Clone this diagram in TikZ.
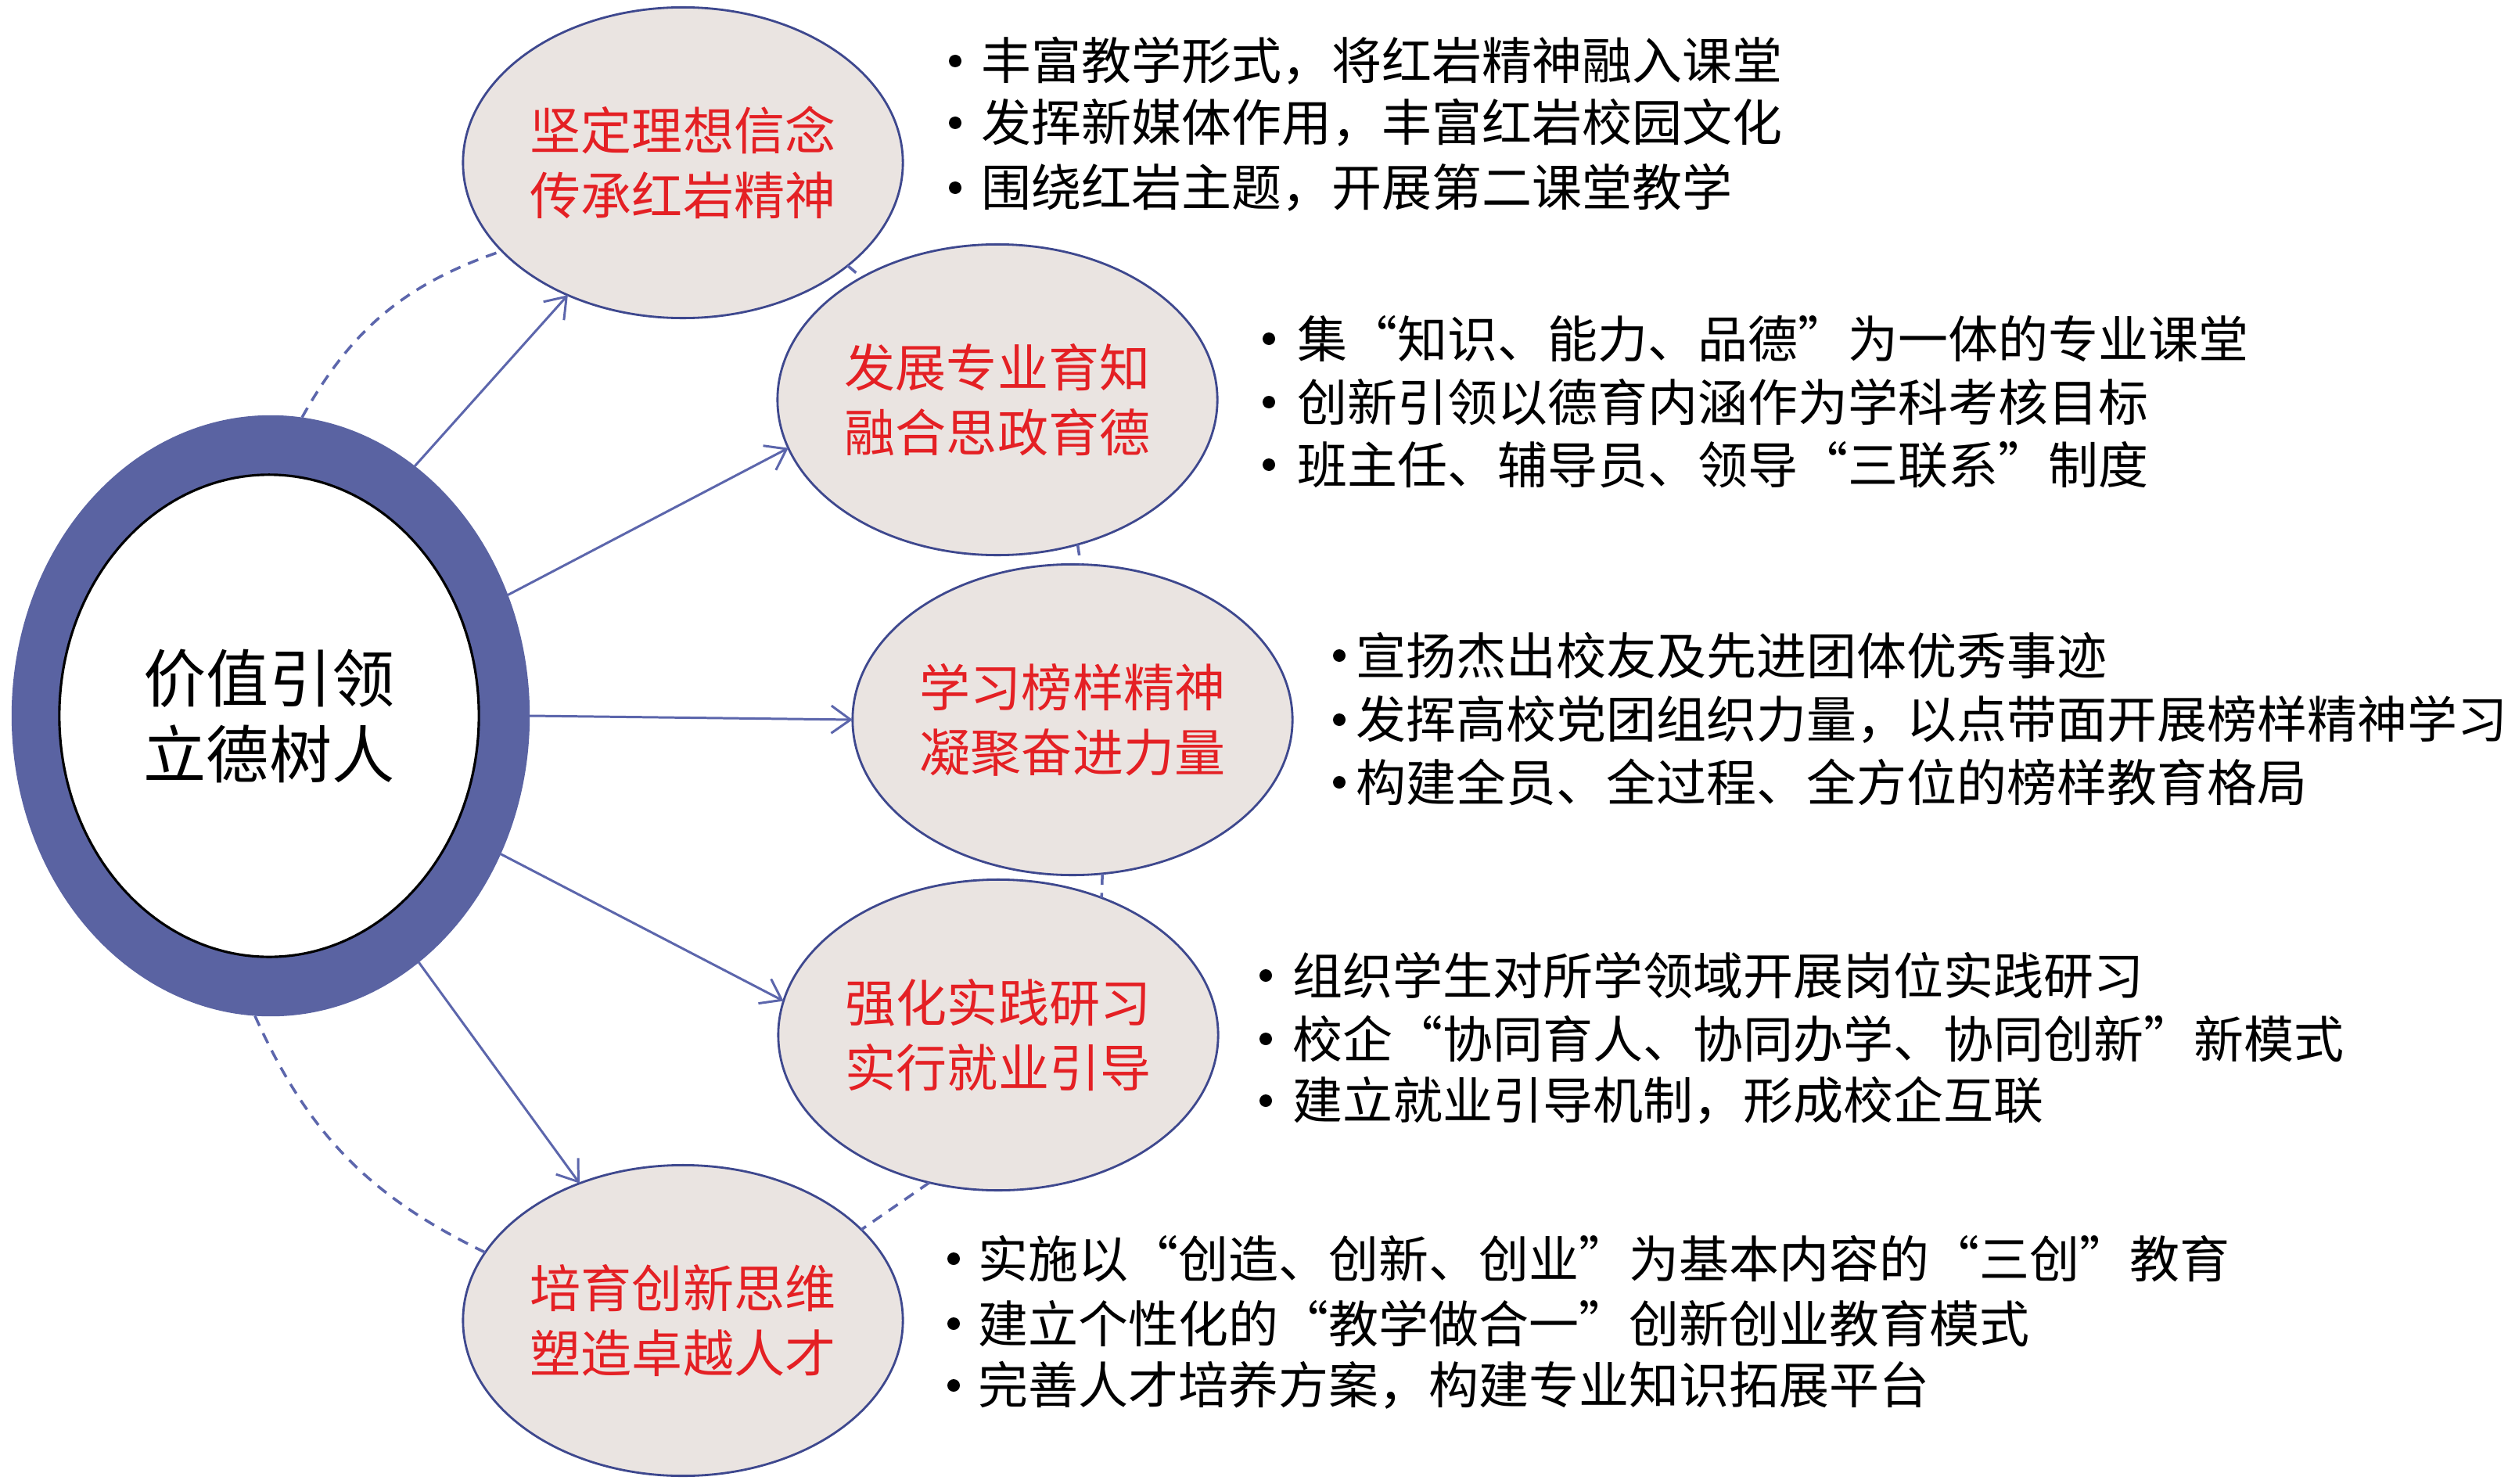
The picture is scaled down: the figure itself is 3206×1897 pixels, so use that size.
\documentclass[tikz,border=0pt]{standalone}
\usepackage{fontspec}
\setmainfont{Noto Sans CJK SC}
\usetikzlibrary{shapes.geometric,arrows.meta}
\definecolor{ringblue}{RGB}{90,99,162}
\definecolor{ellfill}{RGB}{234,228,225}
\definecolor{ellline}{RGB}{62,72,142}
\definecolor{arrowblue}{RGB}{92,102,172}
\definecolor{redtext}{RGB}{228,32,36}
\begin{document}
\begin{tikzpicture}[x=0.01cm,y=-0.01cm,
  goal/.style={ellipse, draw=ellline, line width=0.8pt, fill=ellfill,
    minimum width=5.62cm, minimum height=3.97cm, inner sep=0pt, outer sep=0pt,
    align=center, text=redtext, font=\fontsize{18.5pt}{23.6pt}\selectfont},
  item/.style={anchor=west, inner sep=0pt, font=\fontsize{18.2pt}{22pt}\selectfont},
  conn/.style={draw=arrowblue, line width=0.85pt, -{Straight Barb[length=7pt,width=10pt,line width=0.85pt]}},
  dashlink/.style={draw=arrowblue, line width=1pt, dash pattern=on 4pt off 3pt},
  dot/.style={fill=black}]
\useasboundingbox (0,0) rectangle (3206,1897);
\fill[white] (0,0) rectangle (3206,1897);

% central ring
\node[ellipse, fill=ringblue, minimum width=6.62cm, minimum height=7.68cm, inner sep=0pt, outer sep=0pt] (ring) at (346,915) {};
\node[ellipse, fill=white, draw=black, line width=0.9pt, minimum width=5.36cm, minimum height=6.16cm,
  inner sep=0pt, outer sep=0pt, align=center, font=\fontsize{22.8pt}{27.6pt}\selectfont] (core) at (344,915) {价值引领\\立德树人};

% five goals
\node[goal] (e1) at (873,208) {坚定理想信念\\传承红岩精神};
\node[goal] (e2) at (1275,511) {发展专业育知\\融合思政育德};
\node[goal] (e3) at (1371,920) {学习榜样精神\\凝聚奋进力量};
\node[goal] (e4) at (1276,1323) {强化实践研习\\实行就业引导};
\node[goal] (e5) at (873,1688) {培育创新思维\\塑造卓越人才};

% arrows
\draw[conn] (ring.60.7) -- (e1.229.5);
\draw[conn] (ring.27.8) -- (e2.193.1);
\draw[conn] (ring.0) -- (e3.180);
\draw[conn] (ring.-31.4) -- (e4.171.1);
\draw[conn] (ring.-59) -- (e5.127.7);

% dashed cycle
\draw[dashlink] (ring.84) to[bend left=21] (e1.206);
\draw[dashlink] (e1.-32) -- (e2.138);
\draw[dashlink] (e2.-61) -- (e3.87);
\draw[dashlink] (e3.-79) -- (e4.53);
\draw[dashlink] (e4.245) -- (e5.27);
\draw[dashlink] (ring.267.6) to[bend right=20] (e5.161);

% bullet texts
\node[item] (a1) at (1254,78) {丰富教学形式，将红岩精神融入课堂};
\node[item] (a2) at (1254,157) {发挥新媒体作用，丰富红岩校园文化};
\node[item] (a3) at (1254,240) {围绕红岩主题，开展第二课堂教学};
\foreach \yy in {78,157,240} \fill[dot] (1221,\yy) circle (8);

\node[item] (b1) at (1658,433) {集“知识、能力、品德”为一体的专业课堂};
\node[item] (b2) at (1658,514) {创新引领以德育内涵作为学科考核目标};
\node[item] (b3) at (1658,594) {班主任、辅导员、领导“三联系”制度};
\foreach \yy in {433,514,594} \fill[dot] (1622,\yy) circle (8);

\node[item] (c1) at (1733,838) {宣扬杰出校友及先进团体优秀事迹};
\node[item] (c2) at (1733,920) {发挥高校党团组织力量，以点带面开展榜样精神学习};
\node[item] (c3) at (1733,1000) {构建全员、全过程、全方位的榜样教育格局};
\foreach \yy in {838,920,1000} \fill[dot] (1712,\yy) circle (8);

\node[item] (d1) at (1652,1247) {组织学生对所学领域开展岗位实践研习};
\node[item] (d2) at (1652,1328) {校企“协同育人、协同办学、协同创新”新模式};
\node[item] (d3) at (1652,1407) {建立就业引导机制，形成校企互联};
\foreach \yy in {1247,1328,1407} \fill[dot] (1618,\yy) circle (8);

\node[item] (f1) at (1250,1609) {实施以“创造、创新、创业”为基本内容的“三创”教育};
\node[item] (f2) at (1250,1692) {建立个性化的“教学做合一”创新创业教育模式};
\node[item] (f3) at (1250,1771) {完善人才培养方案，构建专业知识拓展平台};
\foreach \yy in {1609,1692,1771} \fill[dot] (1219,\yy) circle (8);
\end{tikzpicture}
\end{document}
